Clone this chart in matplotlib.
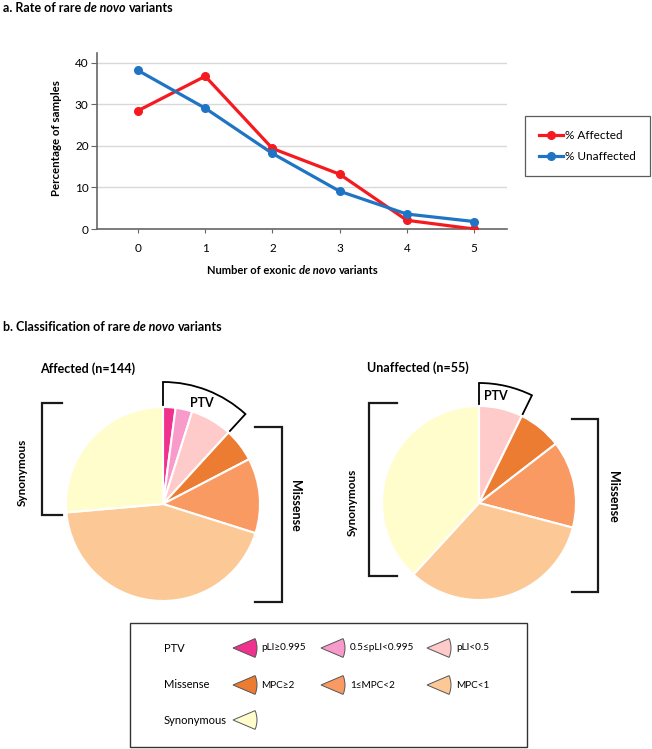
import matplotlib
matplotlib.use("Agg")
import matplotlib.pyplot as plt
from matplotlib.patches import Wedge, Rectangle
import numpy as np

plt.rcParams['font.family'] = ['Lato', 'DejaVu Sans']

# ---------------- data ----------------
n_variants = [0, 1, 2, 3, 4, 5]
pct_affected = [28.5, 36.8, 19.4, 13.2, 2.1, 0.0]
pct_unaffected = [38.2, 29.1, 18.2, 9.1, 3.6, 1.8]
y_ticks = [0, 10, 20, 30, 40]

categories = ["pLI\u22650.995", "0.5\u2264pLI<0.995", "pLI<0.5",
              "MPC\u22652", "1\u2264MPC<2", "MPC<1", "Synonymous"]
cat_colors = ["#F0318E", "#F89BCB", "#FFCACA", "#EC7C32", "#F99A62", "#FCC996", "#FFFDCC"]
affected_counts = [3, 4, 10, 8, 18, 63, 38]      # n=144
unaffected_counts = [0, 0, 4, 4, 8, 18, 21]      # n=55
ptv_idx = [0, 1, 2]

W, H = 652, 749
fig = plt.figure(figsize=(W / 100, H / 100), dpi=100)
renderer = fig.canvas.get_renderer()


def fx(px):
    return px / W


def fy(py):
    return 1 - py / H


def rich(x, y, parts, size=8, ha='left', color='black'):
    """parts: list of (text, style) with style in {'b','bi','r'}"""
    def mk(s, st, xx):
        kw = dict(fontsize=size, color=color, va='center', ha='left',
                  transform=fig.transFigure)
        if 'b' in st:
            kw['fontweight'] = 'bold'
        if 'i' in st:
            kw['fontstyle'] = 'italic'
        return fig.text(fx(xx), fy(y), s, **kw)
    sp = mk("a a", parts[0][1], 0)
    sp2 = mk("aa", parts[0][1], 0)
    wsp = sp.get_window_extent(renderer).width - sp2.get_window_extent(renderer).width
    sp.remove(); sp2.remove()
    texts = []
    xx = x
    for i, (s, st) in enumerate(parts):
        t = mk(s, st, xx)
        texts.append(t)
        xx += t.get_window_extent(renderer).width + (wsp if i < len(parts) - 1 else 0)
    if ha == 'center':
        total = xx - x
        for t in texts:
            px0 = t.get_position()[0] * W
            t.set_x(fx(px0 - total / 2))


# ---------------- panel a ----------------
ax = fig.add_axes([fx(97), fy(229), fx(507) - fx(97), fy(53) - fy(229)])
ax.plot(n_variants, pct_affected, color="#F51A1F", lw=2.3, marker='o', ms=5.5,
        label="% Affected", zorder=3, solid_joinstyle='round')
ax.plot(n_variants, pct_unaffected, color="#1F74C4", lw=2.3, marker='o', ms=5.5,
        label="% Unaffected", zorder=3, solid_joinstyle='round')
ax.set_xlim(-0.61, 5.49)
ax.set_ylim(0, 42.4)
ax.set_yticks(y_ticks)
ax.set_xticks(n_variants)
ax.yaxis.grid(True, color="#D9D9D9", lw=1)
ax.set_axisbelow(True)
for s in ['top', 'right']:
    ax.spines[s].set_visible(False)
for s in ['left', 'bottom']:
    ax.spines[s].set_color("#666666")
    ax.spines[s].set_linewidth(1.2)
ax.tick_params(axis='y', length=4, color="#666666", labelsize=8.5, pad=2)
ax.tick_params(axis='x', length=3, color="#666666", labelsize=8.5, pad=7)

leg = fig.legend(loc='center', bbox_to_anchor=(fx(587.5), fy(146)), frameon=True,
                 fancybox=False, edgecolor='#333333', fontsize=8.5, handlelength=2.0,
                 handletextpad=0.2, borderpad=1.2, labelspacing=0.8, borderaxespad=0)
leg.get_frame().set_linewidth(0.9)

rich(3, 8, [("a. Rate of rare", 'b'), ("de novo", 'bi'), ("variants", 'b')], size=9)
rich(293, 270, [("Number of exonic", 'b'), ("de novo", 'bi'), ("variants", 'b')],
     size=8, ha='center')
fig.text(fx(57), fy(138), "Percentage of samples", rotation=90, fontsize=8.3,
         fontweight='bold', ha='center', va='center')

# ---------------- panel b ----------------
rich(3, 327, [("b. Classification of rare", 'b'), ("de novo", 'bi'), ("variants", 'b')], size=9)

axb = fig.add_axes([0, 0, 1, 1])
axb.set_zorder(-1)


def draw_pie(counts, cx, cy, r, r_out, ptv_label_angle):
    vals = [c for c in counts if c > 0]
    cols = [cat_colors[i] for i, c in enumerate(counts) if c > 0]
    total = sum(counts)
    ptv = sum(counts[i] for i in ptv_idx)
    ang = 360.0 * ptv / total
    axb.add_patch(Wedge((cx, H - cy), r_out, 90 - ang, 90, facecolor='white',
                        edgecolor='black', lw=1.3, zorder=0))
    axb.pie(vals, colors=cols, startangle=90, counterclock=False, radius=r,
            center=(cx, H - cy), wedgeprops=dict(edgecolor='white', linewidth=1.5))
    a = np.deg2rad(90 - ptv_label_angle)
    axb.text(cx + 108 * np.cos(a), H - cy + 108 * np.sin(a), "PTV", fontsize=9,
             fontweight='bold', ha='center', va='center', zorder=5)


draw_pie(affected_counts, 163, 504, 97, 122, 21)
draw_pie(unaffected_counts, 479, 503, 97, 120, 9)

axb.set_xlim(0, W)
axb.set_ylim(0, H)
axb.set_aspect('auto')
axb.axis('off')


def bracket(xv, y0, y1, xt):
    axb.plot([xt, xv, xv, xt], [H - y0, H - y0, H - y1, H - y1], color='#1a1a1a',
             lw=1.6, solid_joinstyle='miter', zorder=4)


bracket(42, 403, 515, 62)
bracket(282, 427, 602, 255)
bracket(369, 403, 576, 397)
bracket(598, 419, 592, 572)

fig.text(fx(40), fy(369), "Affected (n=144)", fontsize=9, fontweight='bold', va='center')
fig.text(fx(367), fy(368), "Unaffected (n=55)", fontsize=9, fontweight='bold', va='center')
fig.text(fx(22), fy(472), "Synonymous", fontsize=8.5, fontweight='bold', rotation=90,
         ha='center', va='center')
fig.text(fx(352), fy(502), "Synonymous", fontsize=8.5, fontweight='bold', rotation=90,
         ha='center', va='center')
fig.text(fx(295), fy(506), "Missense", fontsize=9, fontweight='bold', rotation=-90,
         ha='center', va='center')
fig.text(fx(613), fy(497), "Missense", fontsize=9, fontweight='bold', rotation=-90,
         ha='center', va='center')

# legend box for panel b
axb.add_patch(Rectangle((130, H - 747), 397, 124, facecolor='none', edgecolor='#333333',
                        lw=1.0, zorder=3))
row_y = [648, 685, 720]
row_names = ["PTV", "Missense", "Synonymous"]
icon_x = [233, 321, 427]
label_x = [261, 350, 456]
groups = [[0, 1, 2], [3, 4, 5], [6]]
for ry, name, grp in zip(row_y, row_names, groups):
    fig.text(fx(164), fy(ry), name, fontsize=8, va='center')
    for j, ci in enumerate(grp):
        axb.add_patch(Wedge((icon_x[j], H - ry), 24, -23, 23, facecolor=cat_colors[ci],
                            edgecolor='#555555', lw=0.7, zorder=4))
        if ci != 6:
            fig.text(fx(label_x[j]), fy(ry), categories[ci], fontsize=7.2, va='center')

fig.savefig("out.png", dpi=100)
